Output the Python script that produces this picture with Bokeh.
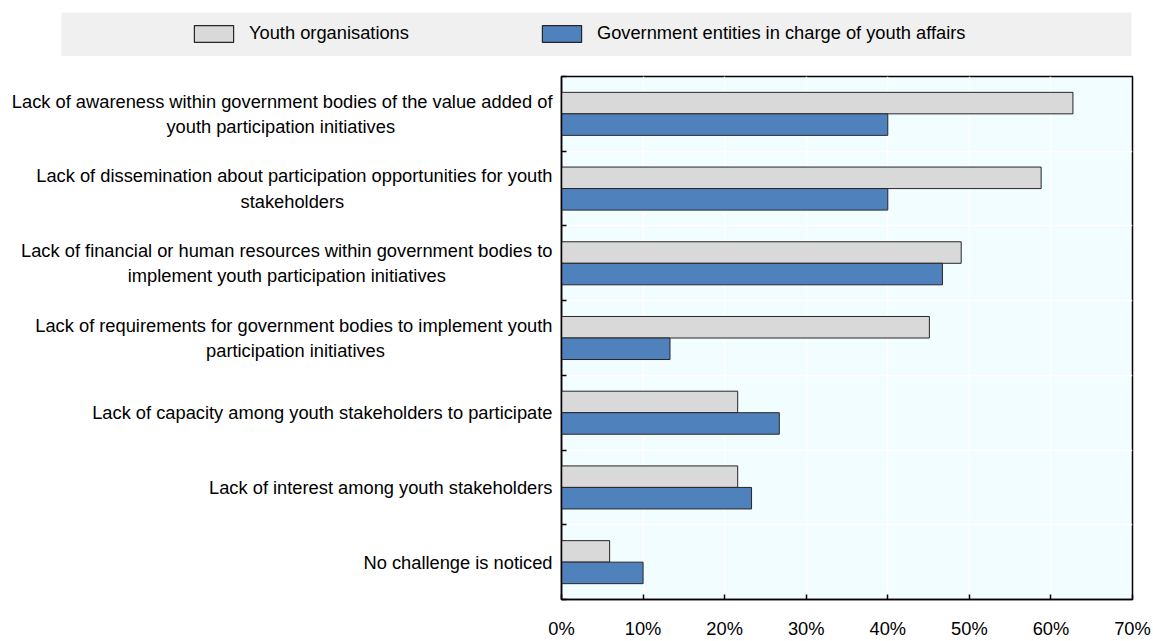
from bokeh.plotting import figure
from bokeh.models import (Range1d, FixedTicker, PrintfTickFormatter, Legend, LegendItem,
                          ColumnDataSource)
from bokeh.embed import file_html
from bokeh.resources import INLINE
import numpy as np

categories = [
    "Lack of awareness within government bodies of the value added of\nyouth participation initiatives",
    "Lack of dissemination about participation opportunities for youth\nstakeholders",
    "Lack of financial or human resources within government bodies to\nimplement youth participation initiatives",
    "Lack of requirements for government bodies to implement youth\nparticipation initiatives",
    "Lack of capacity among youth stakeholders to participate",
    "Lack of interest among youth stakeholders",
    "No challenge is noticed",
]
youth_orgs = [62.7, 58.8, 49.0, 45.1, 21.6, 21.6, 5.9]
government = [40.0, 40.0, 46.7, 13.3, 26.7, 23.3, 10.0]
series_names = ["Youth organisations", "Government entities in charge of youth affairs"]
x_ticks = [0, 10, 20, 30, 40, 50, 60, 70]

FONT = "Liberation Sans"
FS_PX = 18.3
FS = f"{FS_PX}px"
GRAY = "#d9d9d9"
BLUE = "#4f81bd"
EDGE = "#262626"

# Arial / Liberation Sans advance widths (1/1000 em): used to centre the wrapped lines
ARIAL = dict(zip("abcdefghijklmnopqrstuvwxyz",
                 [556, 556, 500, 556, 556, 278, 556, 556, 222, 222, 500, 222, 833,
                  556, 556, 556, 556, 333, 500, 278, 556, 500, 722, 500, 500, 500]))
ARIAL.update({" ": 278, "L": 556, "N": 722})
NBSP = "\u00a0"


def width(line):
    return sum(ARIAL.get(ch, 556) for ch in line) * FS_PX / 1000.0


def centred(label):
    lines = label.split("\n")
    w = max(width(l) for l in lines)
    out = []
    for l in lines:
        pad = int(round((w - width(l)) / 2 / width(" ")))
        out.append(l + NBSP * pad)
    return "\n".join(out)


n = len(categories)
centers = np.arange(n)[::-1] + 0.5
bar_h = 0.288
src = ColumnDataSource(dict(
    y_gray=centers + bar_h / 2,
    y_blue=centers - bar_h / 2,
    youth=youth_orgs,
    gov=government,
))

p = figure(width=1153, height=585, x_range=Range1d(0, 70), y_range=Range1d(0, n),
           output_backend="svg", toolbar_location=None,
           min_border_left=561, min_border_right=21, min_border_top=20, min_border_bottom=38)
p.background_fill_color = "#f2fdff"
p.border_fill_color = "white"
p.outline_line_color = "black"
p.outline_line_width = 1.5

r1 = p.hbar(y="y_gray", right="youth", left=0, height=bar_h, source=src,
            fill_color=GRAY, line_color=EDGE, line_width=1)
r2 = p.hbar(y="y_blue", right="gov", left=0, height=bar_h, source=src,
            fill_color=BLUE, line_color=EDGE, line_width=1)

# x axis
p.xaxis.ticker = FixedTicker(ticks=x_ticks)
p.xaxis.formatter = PrintfTickFormatter(format="%d%%")
p.xaxis.major_tick_in = 5
p.xaxis.major_tick_out = 0
p.xaxis.minor_tick_line_color = None
p.xaxis.axis_line_width = 1.5
p.xaxis.axis_line_color = "black"
p.xaxis.major_tick_line_color = "black"
p.xaxis.major_tick_line_width = 1.5
p.xaxis.major_label_text_font = FONT
p.xaxis.major_label_text_font_size = FS
p.xaxis.major_label_text_color = "black"
p.xaxis.major_label_standoff = 18

# y axis: labels at band centres, ticks at band boundaries
boundaries = list(np.arange(n + 1))
p.yaxis.ticker = FixedTicker(ticks=list(centers), minor_ticks=boundaries)
p.yaxis.major_label_overrides = {float(c): centred(lab) for c, lab in zip(centers, categories)}
p.yaxis.major_tick_in = 0
p.yaxis.major_tick_out = 0
p.yaxis.minor_tick_in = 5
p.yaxis.minor_tick_out = 0
p.yaxis.minor_tick_line_color = "black"
p.yaxis.minor_tick_line_width = 1.5
p.yaxis.axis_line_width = 1.5
p.yaxis.axis_line_color = "black"
p.yaxis.major_label_text_font = FONT
p.yaxis.major_label_text_font_size = FS
p.yaxis.major_label_text_color = "black"
p.yaxis.major_label_standoff = 9

p.xgrid.grid_line_color = "white"
p.xgrid.grid_line_width = 1.5
p.ygrid.ticker = FixedTicker(ticks=boundaries)
p.ygrid.grid_line_color = "white"
p.ygrid.grid_line_width = 1.5

# legend strip (separate root, so its frame is not aligned with the chart frame)
lg = figure(width=1153, height=56, x_range=Range1d(0, 1), y_range=Range1d(0, 1),
            output_backend="svg", toolbar_location=None,
            x_axis_location=None, y_axis_location=None,
            min_border_left=61, min_border_right=22, min_border_top=12, min_border_bottom=0)
lg.background_fill_color = "#f0f0f0"
lg.border_fill_color = "white"
lg.outline_line_color = None
lg.xgrid.visible = False
lg.ygrid.visible = False
dummy = ColumnDataSource(dict(y=[-5], right=[1]))
d1 = lg.hbar(y="y", right="right", height=0.5, source=dummy,
             fill_color=GRAY, line_color=EDGE, line_width=1.2)
d2 = lg.hbar(y="y", right="right", height=0.5, source=dummy,
             fill_color=BLUE, line_color=EDGE, line_width=1.2)
legend = Legend(items=[LegendItem(label=series_names[0], renderers=[d1]),
                       LegendItem(label=series_names[1], renderers=[d2])],
                orientation="horizontal", location=(128, 12),
                glyph_width=49, glyph_height=21, label_standoff=11, spacing=128,
                padding=0, margin=0, label_height=15,
                background_fill_alpha=0, border_line_alpha=0,
                label_text_font=FONT, label_text_font_size=FS,
                label_text_color="black")
lg.add_layout(legend, "center")

open("out.html", "w").write(file_html([lg, p], INLINE))
